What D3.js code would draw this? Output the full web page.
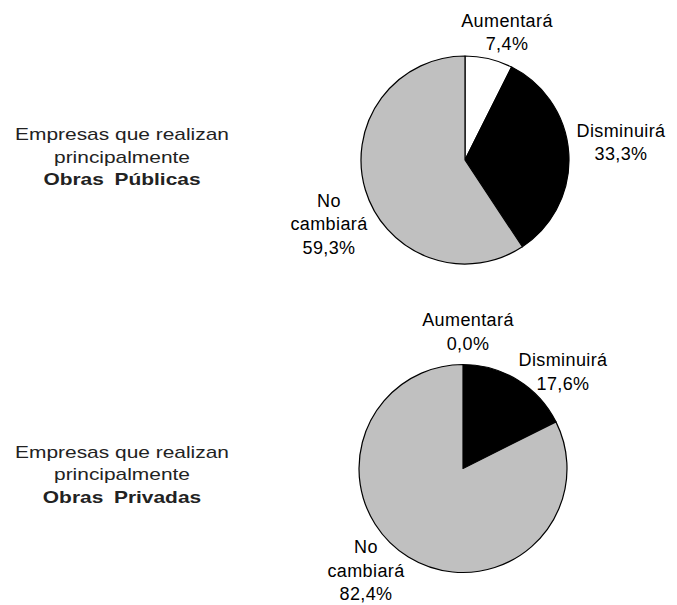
<!DOCTYPE html>
<html>
<head>
<meta charset="utf-8">
<script src="https://cdn.jsdelivr.net/npm/d3@7"></script>
<style>
  body { margin: 0; background: #fff; }
  svg { display: block; font-family: Arial, "Liberation Sans", Helvetica, sans-serif; }
</style>
</head>
<body>
<script>
// categories and values (clockwise from 12 o'clock)
const categories = ["Aumentará", "Disminuirá", "No cambiará"];
const publicasValues = [7.4, 33.3, 59.3];
const privadasValues = [0.0, 17.6, 82.4];
const groupTitles = ["Obras Públicas", "Obras Privadas"];
const labelLines = [["Aumentará"], ["Disminuirá"], ["No", "cambiará"]];

const width = 677,
      height = 605;

let svg = null;
let color = null;

// layout of each pie (centre, radius) and where Excel put its labels
const pies = [
  { values: publicasValues, title: groupTitles[0], cx: 465, cy: 160, r: 104,
    side: 140.5,
    labels: [ {x: 507, y: 26.5}, {x: 621, y: 136.5}, {x: 329, y: 206.5} ] },
  { values: privadasValues, title: groupTitles[1], cx: 463, cy: 468.5, r: 104,
    side: 458,
    labels: [ {x: 468, y: 326}, {x: 563, y: 366}, {x: 366, y: 553} ] }
];

appendSvg("body");
setupColor();
pies.forEach(drawPie);

function appendSvg(domElement) {
  svg = d3.select(domElement).append("svg")
    .attr("width", width)
    .attr("height", height);
}

function setupColor() {
  color = d3.scaleOrdinal()
    .domain(categories)
    .range(["#ffffff", "#000000", "#c0c0c0"]);
}

function fmt(v) {
  return d3.format(".1f")(v).replace(".", ",") + "%";
}

function drawPie(p) {
  const data = categories.map((c, i) => ({ cat: c, value: p.values[i], idx: i }));

  const pie = d3.pie()
    .sort(null)
    .value(d => d.value);

  const arc = d3.arc()
    .innerRadius(0)
    .outerRadius(p.r);

  const g = svg.append("g")
    .attr("transform", `translate(${p.cx}, ${p.cy})`);

  g.selectAll("path")
    .data(pie(data))
    .enter()
    .append("path")
    .attr("d", arc)
    .attr("fill", d => color(d.data.cat))
    .attr("stroke", "#000")
    .attr("stroke-width", 1.2)
    .attr("stroke-linejoin", "round");

  // slice labels: name + value, stacked
  data.forEach(function(d, i) {
    const lines = labelLines[i].concat([fmt(d.value)]);
    const t = svg.append("text")
      .attr("text-anchor", "middle")
      .attr("font-size", "18px")
      .attr("letter-spacing", "0.4px")
      .attr("fill", "#000");
    lines.forEach(function(line, j) {
      t.append("tspan")
        .attr("x", p.labels[i].x)
        .attr("y", p.labels[i].y + j * 23.5)
        .text(line);
    });
  });

  // group label on the left (text looks horizontally stretched in original)
  const side = svg.append("g")
    .attr("transform", "translate(122, 0) scale(1.23, 1)");
  const sideLines = ["Empresas que realizan", "principalmente"];
  sideLines.forEach(function(line, j) {
    side.append("text")
      .attr("x", 0)
      .attr("y", p.side + j * 22.5)
      .attr("text-anchor", "middle")
      .attr("font-size", "17px")
      .attr("fill", "#222")
      .text(line);
  });
  side.append("text")
    .attr("x", 0)
    .attr("y", p.side + 45)
    .attr("text-anchor", "middle")
    .attr("font-size", "17px")
    .attr("font-weight", "bold")
    .attr("word-spacing", "4px")
    .attr("fill", "#222")
    .text(p.title);
}
</script>
</body>
</html>
